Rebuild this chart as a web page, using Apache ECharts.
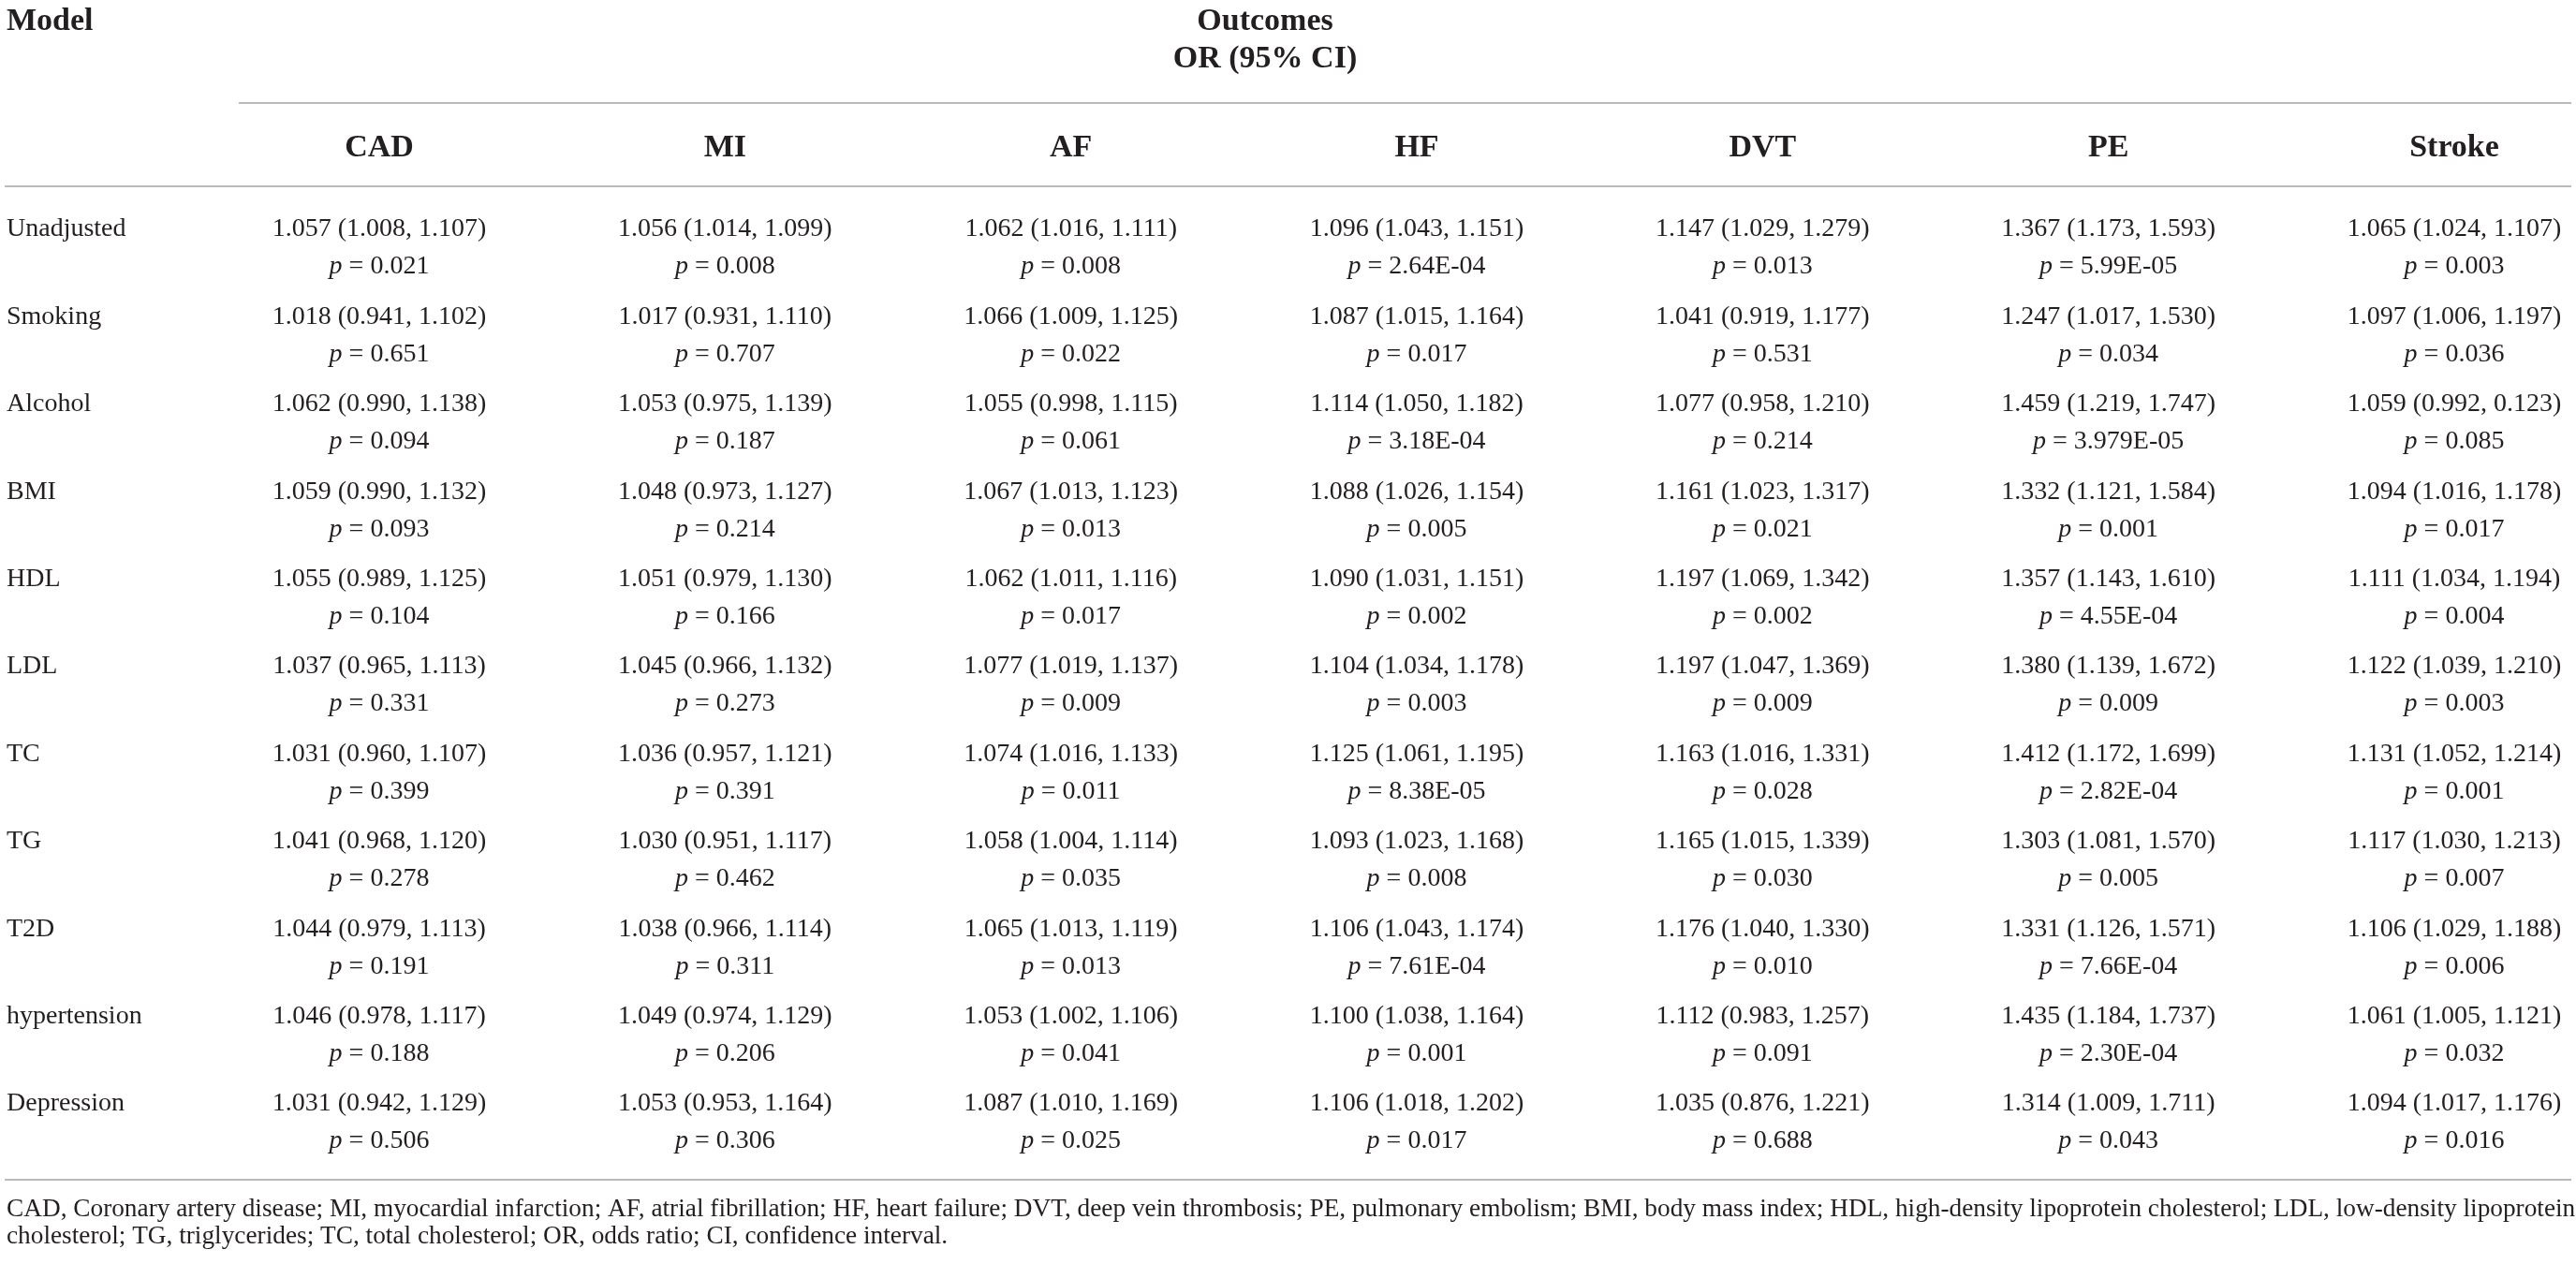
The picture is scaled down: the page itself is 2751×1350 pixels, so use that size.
<!DOCTYPE html>
<html>
<head>
<meta charset="UTF-8">
<title>Outcomes OR (95% CI)</title>
<script src="https://cdn.jsdelivr.net/npm/echarts@6/dist/echarts.min.js"></script>
<style>
body{
margin:0;
background:#ffffff;
}
#chart{
width:2751px;
height:1350px;
}
</style>
</head>
<body>
<div id="chart"></div>
<script>

const models = ["Unadjusted","Smoking","Alcohol","BMI","HDL","LDL","TC","TG","T2D","hypertension","Depression"]

const outcomes = ["CAD","MI","AF","HF","DVT","PE","Stroke"]

const orCAD = ["1.057 (1.008, 1.107)","1.018 (0.941, 1.102)","1.062 (0.990, 1.138)","1.059 (0.990, 1.132)","1.055 (0.989, 1.125)","1.037 (0.965, 1.113)","1.031 (0.960, 1.107)","1.041 (0.968, 1.120)","1.044 (0.979, 1.113)","1.046 (0.978, 1.117)","1.031 (0.942, 1.129)"]
const pCAD = ["0.021","0.651","0.094","0.093","0.104","0.331","0.399","0.278","0.191","0.188","0.506"]

const orMI = ["1.056 (1.014, 1.099)","1.017 (0.931, 1.110)","1.053 (0.975, 1.139)","1.048 (0.973, 1.127)","1.051 (0.979, 1.130)","1.045 (0.966, 1.132)","1.036 (0.957, 1.121)","1.030 (0.951, 1.117)","1.038 (0.966, 1.114)","1.049 (0.974, 1.129)","1.053 (0.953, 1.164)"]
const pMI = ["0.008","0.707","0.187","0.214","0.166","0.273","0.391","0.462","0.311","0.206","0.306"]

const orAF = ["1.062 (1.016, 1.111)","1.066 (1.009, 1.125)","1.055 (0.998, 1.115)","1.067 (1.013, 1.123)","1.062 (1.011, 1.116)","1.077 (1.019, 1.137)","1.074 (1.016, 1.133)","1.058 (1.004, 1.114)","1.065 (1.013, 1.119)","1.053 (1.002, 1.106)","1.087 (1.010, 1.169)"]
const pAF = ["0.008","0.022","0.061","0.013","0.017","0.009","0.011","0.035","0.013","0.041","0.025"]

const orHF = ["1.096 (1.043, 1.151)","1.087 (1.015, 1.164)","1.114 (1.050, 1.182)","1.088 (1.026, 1.154)","1.090 (1.031, 1.151)","1.104 (1.034, 1.178)","1.125 (1.061, 1.195)","1.093 (1.023, 1.168)","1.106 (1.043, 1.174)","1.100 (1.038, 1.164)","1.106 (1.018, 1.202)"]
const pHF = ["2.64E-04","0.017","3.18E-04","0.005","0.002","0.003","8.38E-05","0.008","7.61E-04","0.001","0.017"]

const orDVT = ["1.147 (1.029, 1.279)","1.041 (0.919, 1.177)","1.077 (0.958, 1.210)","1.161 (1.023, 1.317)","1.197 (1.069, 1.342)","1.197 (1.047, 1.369)","1.163 (1.016, 1.331)","1.165 (1.015, 1.339)","1.176 (1.040, 1.330)","1.112 (0.983, 1.257)","1.035 (0.876, 1.221)"]
const pDVT = ["0.013","0.531","0.214","0.021","0.002","0.009","0.028","0.030","0.010","0.091","0.688"]

const orPE = ["1.367 (1.173, 1.593)","1.247 (1.017, 1.530)","1.459 (1.219, 1.747)","1.332 (1.121, 1.584)","1.357 (1.143, 1.610)","1.380 (1.139, 1.672)","1.412 (1.172, 1.699)","1.303 (1.081, 1.570)","1.331 (1.126, 1.571)","1.435 (1.184, 1.737)","1.314 (1.009, 1.711)"]
const pPE = ["5.99E-05","0.034","3.979E-05","0.001","4.55E-04","0.009","2.82E-04","0.005","7.66E-04","2.30E-04","0.043"]

const orStroke = ["1.065 (1.024, 1.107)","1.097 (1.006, 1.197)","1.059 (0.992, 0.123)","1.094 (1.016, 1.178)","1.111 (1.034, 1.194)","1.122 (1.039, 1.210)","1.131 (1.052, 1.214)","1.117 (1.030, 1.213)","1.106 (1.029, 1.188)","1.061 (1.005, 1.121)","1.094 (1.017, 1.176)"]
const pStroke = ["0.003","0.036","0.085","0.017","0.004","0.003","0.001","0.007","0.006","0.032","0.016"]

const footnote = [
 "CAD, Coronary artery disease; MI, myocardial infarction; AF, atrial fibrillation; HF, heart failure; DVT, deep vein thrombosis; PE, pulmonary embolism; BMI, body mass index; HDL, high-density lipoprotein cholesterol; LDL, low-density lipoprotein",
 "cholesterol; TG, triglycerides; TC, total cholesterol; OR, odds ratio; CI, confidence interval."
]

const FAMILY = '"Liberation Serif", "Times New Roman", serif'
const INK = "#231f20"
const RULE = "#a3a3a3"
const BODY = 28

const orCols = [orCAD,orMI,orAF,orHF,orDVT,orPE,orStroke]
const pCols = [pCAD,pMI,pAF,pHF,pDVT,pPE,pStroke]

// one data item per cell: [outcome index, model index]
const cells = []
const cellData = []
for(let c=0;c<outcomes.length;c++){
 for(let r=0;r<models.length;r++){
  cells.push({or:orCols[c][r],p:pCols[c][r]})
  cellData.push([c,r])
 }
}

function renderCell(params,api){
 const pt = api.coord([api.value(0),api.value(1)])
 const cell = cells[params.dataIndex]
 return {
  type:"group",
  children:[
   {
    type:"text",
    x:pt[0],
    y:pt[1],
    style:{
     text:cell.or,
     font:BODY + "px " + FAMILY,
     fill:INK,
     align:"center",
     verticalAlign:"middle"
    }
   },
   {
    type:"text",
    x:pt[0],
    y:pt[1]+40,
    style:{
     text:"{i|p}{n| = " + cell.p + "}",
     font:BODY + "px " + FAMILY,
     fill:INK,
     align:"center",
     verticalAlign:"middle",
     rich:{
      i:{font:"italic " + BODY + "px " + FAMILY,fill:INK},
      n:{font:BODY + "px " + FAMILY,fill:INK}
     }
    }
   }
  ]
 }
}

function rule(y,x1,x2){
 return {
  type:"line",
  shape:{x1:x1,y1:y,x2:x2,y2:y},
  style:{stroke:RULE,lineWidth:1.5},
  silent:true
 }
}

function label(text,x,y,size,bold,align){
 return {
  type:"text",
  x:x,
  y:y,
  style:{
   text:text,
   font:(bold?"bold ":"") + size + "px " + FAMILY,
   fill:INK,
   align:align,
   verticalAlign:"middle"
  },
  silent:true
 }
}

const chart = echarts.init(document.getElementById("chart"),null,{renderer:"canvas"})

chart.setOption({

 animation:false,

 backgroundColor:"#ffffff",

 grid:{left:405,right:130,top:245,bottom:171},

 xAxis:{
  type:"category",
  data:outcomes,
  position:"top",
  boundaryGap:false,
  axisLine:{show:false},
  axisTick:{show:false},
  splitLine:{show:false},
  axisLabel:{
   margin:87,
   verticalAlign:"middle",
   fontFamily:FAMILY,
   fontWeight:"bold",
   fontSize:34,
   color:INK
  }
 },

 yAxis:{
  type:"category",
  data:models,
  inverse:true,
  boundaryGap:false,
  axisLine:{show:false},
  axisTick:{show:false},
  splitLine:{show:false},
  axisLabel:{
   margin:398,
   align:"left",
   fontFamily:FAMILY,
   fontSize:BODY,
   color:INK
  }
 },

 graphic:[
  label("Model",7,23,34,true,"left"),
  label("Outcomes",1351,23,34,true,"center"),
  label("OR (95% CI)",1351,63,34,true,"center"),
  rule(110,255,2746),
  rule(199,5,2746),
  rule(1260,5,2746),
  label(footnote[0],7,1292,27.3,false,"left"),
  label(footnote[1],7,1321,27.3,false,"left")
 ],

 series:[
  {
   type:"custom",
   coordinateSystem:"cartesian2d",
   renderItem:renderCell,
   data:cellData,
   encode:{x:0,y:1},
   silent:true
  }
 ]

})

</script>
</body>
</html>
